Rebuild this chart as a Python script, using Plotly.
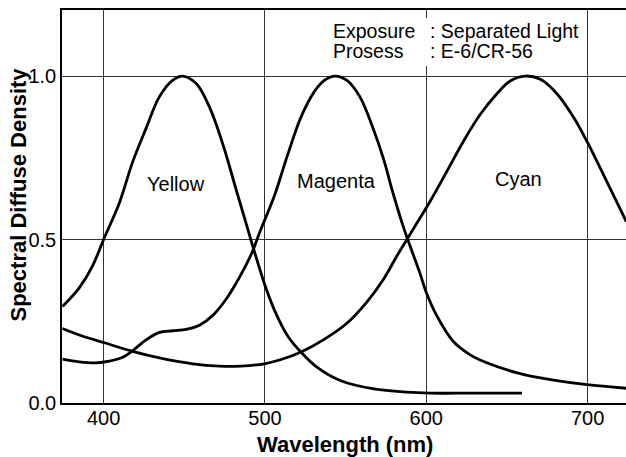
import plotly.graph_objects as go

# ---- data ----
yellow_x = [374.5, 385, 393, 400, 409.8, 418, 426.3, 434.6, 442.9, 449, 457.4, 465.7, 474, 482.3,
            488, 492, 496, 500, 505.8, 514.1, 522.4, 532.6, 547, 567.6, 588, 602, 620, 640, 659.3]
yellow_y = [0.295, 0.353, 0.418, 0.5, 0.6125, 0.7375, 0.84, 0.937, 0.9875, 1.0, 0.977, 0.904, 0.79, 0.65,
            0.555, 0.487, 0.422, 0.36, 0.285, 0.205, 0.155, 0.108, 0.068, 0.043, 0.033, 0.030, 0.030, 0.030, 0.030]

magenta_x = [374.5, 384.9, 395.3, 403.5, 411.8, 418, 426.3, 434.6, 442.9, 451.2, 459.4, 467.7, 476, 482,
             487, 492, 497, 505.8, 514, 522.4, 530.7, 537, 543.3, 550.6, 558.8, 567, 573.4, 579.5, 585.7,
             588.5, 596, 600, 606.4, 616.8, 627, 637.5, 658.2, 679, 699.6, 724]
magenta_y = [0.134, 0.126, 0.123, 0.128, 0.14, 0.16, 0.193, 0.216, 0.221, 0.225, 0.238, 0.268, 0.318, 0.365,
             0.41, 0.46, 0.525, 0.633, 0.758, 0.875, 0.953, 0.9875, 1.0, 0.9875, 0.937, 0.84, 0.748, 0.64, 0.54,
             0.5, 0.398, 0.338, 0.268, 0.188, 0.148, 0.123, 0.09, 0.07, 0.056, 0.045]

cyan_x = [374.5, 384.9, 400, 418, 434.6, 455.3, 471.8, 485, 499.6, 510, 522.4, 536.2, 550.6, 563, 573.4,
          581.6, 588, 596, 602.5, 612.7, 623, 633.5, 643.8, 652, 661.3, 670.7, 681, 691.4, 699.6, 708,
          716.3, 724]
cyan_y = [0.228, 0.208, 0.185, 0.158, 0.138, 0.12, 0.113, 0.113, 0.12, 0.133, 0.156, 0.193, 0.243, 0.308,
          0.378, 0.448, 0.5, 0.565, 0.618, 0.708, 0.8, 0.883, 0.946, 0.985, 1.0, 0.99, 0.946, 0.873, 0.8,
          0.717, 0.633, 0.555]

x_ticks = [400, 500, 600, 700]
y_ticks = [0.0, 0.5, 1.0]
y_tick_labels = ["0.0", "0.5", "1.0"]

curve_names = ["Yellow", "Magenta", "Cyan"]
label_x = [445, 544.3, 657]
label_y = [0.67, 0.68, 0.685]

# ---- layout geometry (pixels) ----
W, H = 626, 457
L, R, T, B = 62, 0, 10, 54
PW, PH = W - L - R, H - T - B
FONT = "Liberation Sans, Arial, Helvetica, sans-serif"


def px_x(p):
    return (p - L) / PW


def px_y(p):
    return (H - B - p) / PH


fig = go.Figure()
for xs, ys in [(yellow_x, yellow_y), (magenta_x, magenta_y), (cyan_x, cyan_y)]:
    fig.add_trace(go.Scatter(x=xs, y=ys, mode="lines",
                             line=dict(color="black", width=2.8, shape="spline", smoothing=1.0),
                             hoverinfo="skip"))

for name, lx, ly in zip(curve_names, label_x, label_y):
    fig.add_annotation(x=lx, y=ly, xref="x", yref="y", text=name, showarrow=False,
                       xanchor="center", yanchor="middle",
                       font=dict(family=FONT, size=20, color="black"))

# info box
fig.add_shape(type="rect", xref="paper", yref="paper",
              x0=px_x(424), x1=px_x(583), y0=px_y(66), y1=px_y(18),
              fillcolor="white", line=dict(width=0), layer="above")
info_left = ["Exposure", "Prosess"]
info_right = [": Separated Light", ": E-6/CR-56"]
info_rows = [31, 51]
for a, b, yy in zip(info_left, info_right, info_rows):
    fig.add_annotation(x=px_x(331), y=px_y(yy), xref="paper", yref="paper", text=a, showarrow=False,
                       xanchor="left", yanchor="middle", font=dict(family=FONT, size=19.5, color="black"))
    fig.add_annotation(x=px_x(428), y=px_y(yy), xref="paper", yref="paper", text=b, showarrow=False,
                       xanchor="left", yanchor="middle", font=dict(family=FONT, size=19.5, color="black"))

# axis titles
fig.add_annotation(x=px_x(344.5), y=px_y(444), xref="paper", yref="paper",
                   text="<b>Wavelength (nm)</b>", showarrow=False,
                   xanchor="center", yanchor="middle",
                   font=dict(family=FONT, size=22, color="black"))
fig.add_annotation(x=px_x(18), y=px_y(194.5), xref="paper", yref="paper",
                   text="<b>Spectral Diffuse Density</b>", showarrow=False, textangle=-90,
                   xanchor="center", yanchor="middle",
                   font=dict(family=FONT, size=22, color="black"))

fig.update_layout(
    width=W, height=H,
    margin=dict(l=L, r=R, t=T, b=B, autoexpand=False),
    plot_bgcolor="white", paper_bgcolor="white",
    showlegend=False,
    font=dict(family=FONT, color="black"),
)
fig.update_xaxes(range=[374.2, 723.8], tickvals=x_ticks, showgrid=True, gridcolor="#333333", gridwidth=1,
                 showline=True, linecolor="black", linewidth=1.5, mirror=True, ticks="", automargin=False,
                 zeroline=False, ticklabelstandoff=-4, tickfont=dict(family=FONT, size=20, color="black"))
fig.update_yaxes(range=[0, 1.202], tickvals=y_ticks, ticktext=y_tick_labels, showgrid=True,
                 gridcolor="#333333", gridwidth=1, showline=True, linecolor="black", linewidth=1.5,
                 mirror=False, ticks="", zeroline=False, automargin=False,
                 tickfont=dict(family=FONT, size=20, color="black"))

fig.write_html("out.html", config={"displayModeBar": False},
               post_script="document.body.style.margin='0';document.body.style.padding='0';")
